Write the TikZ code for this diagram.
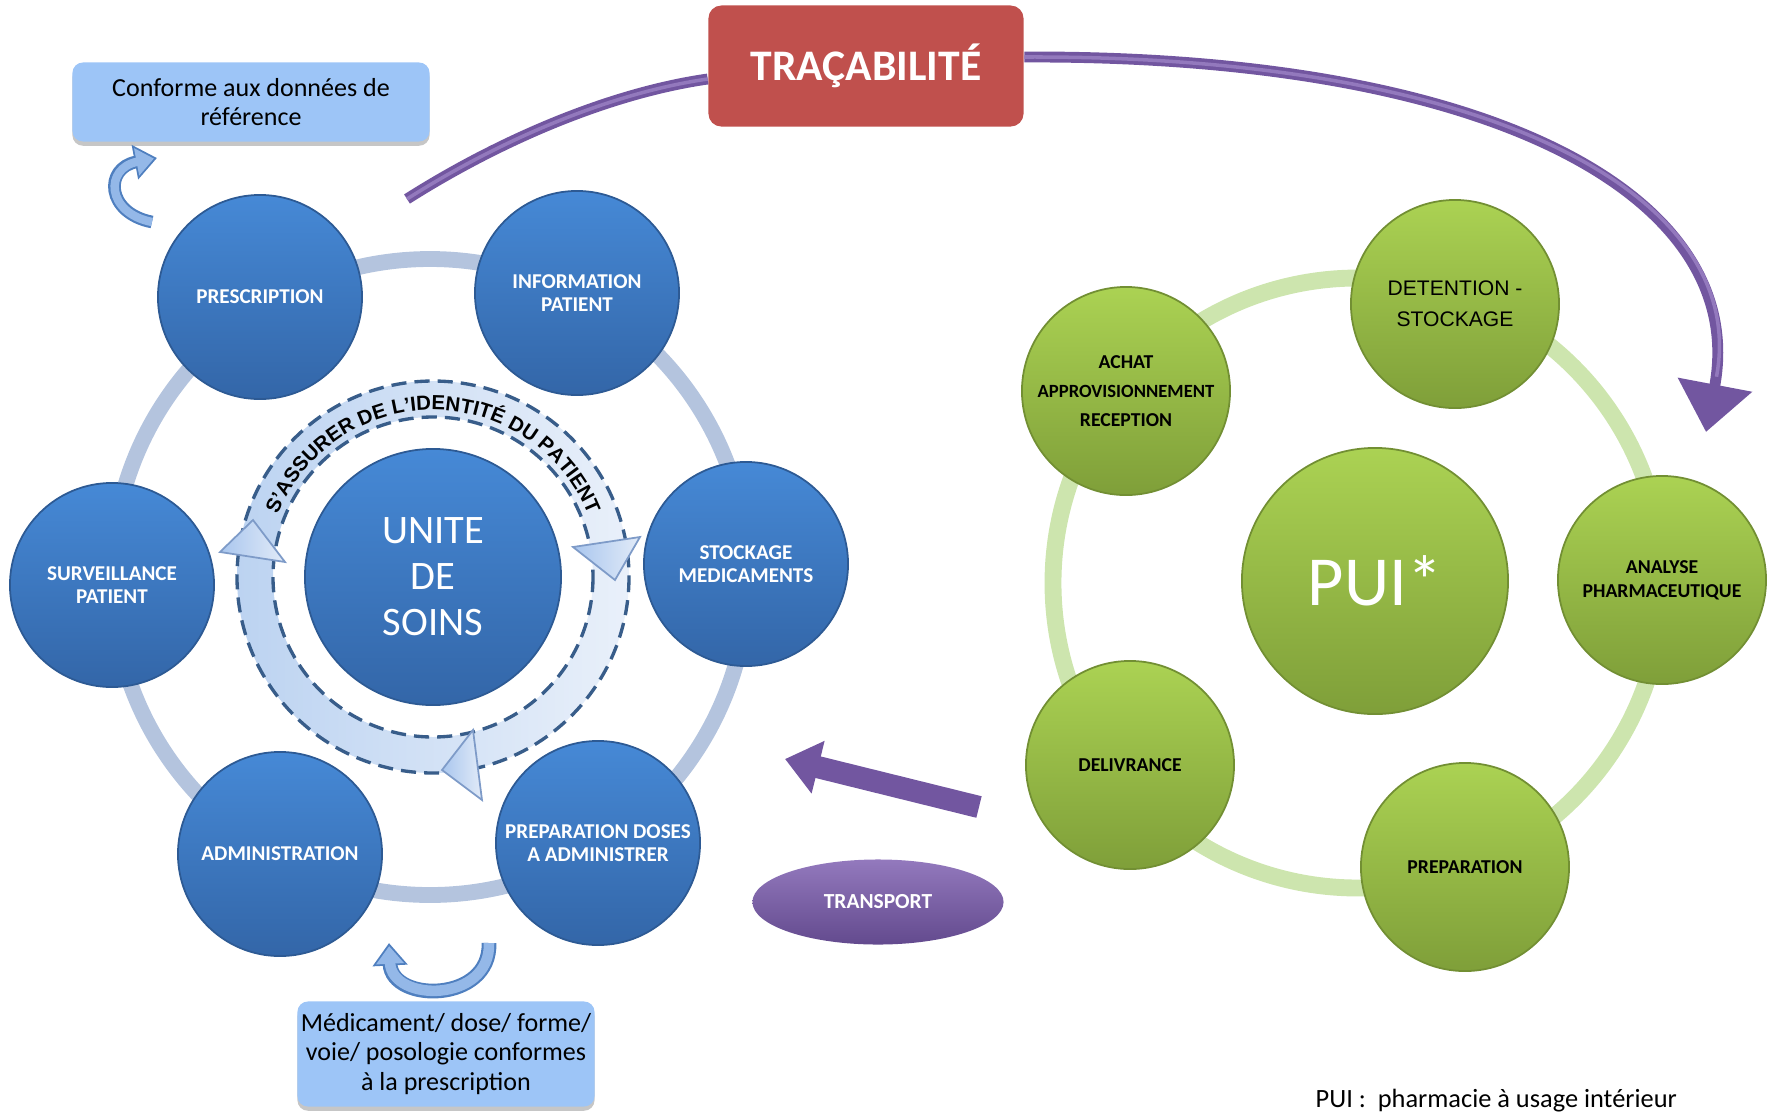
\documentclass[tikz,border=0pt]{standalone}
\usepackage{fontspec}
\setmainfont{Carlito}
\newfontfamily\arialfont{Liberation Sans}
\usetikzlibrary{shapes.geometric, arrows.meta, decorations.text, shadows, calc}

\definecolor{blueTop}{HTML}{4689D6}
\definecolor{blueBot}{HTML}{3366A8}
\definecolor{blueEdge}{HTML}{2D5A94}
\definecolor{blueRing}{HTML}{B4C4DE}
\definecolor{greenTop}{HTML}{ABD253}
\definecolor{greenBot}{HTML}{7F9F39}
\definecolor{greenEdge}{HTML}{728F33}
\definecolor{greenRing}{HTML}{CDE5AE}
\definecolor{tracaRed}{HTML}{C0504D}
\definecolor{purpleMid}{HTML}{7256A0}
\definecolor{purpleTop}{HTML}{9379BD}
\definecolor{purpleBot}{HTML}{634A8E}
\definecolor{noteBlue}{HTML}{9DC5F7}
\definecolor{bandLeft}{HTML}{BCD3F1}
\definecolor{bandRight}{HTML}{E9F0FA}
\definecolor{dashBlue}{HTML}{385D8A}
\definecolor{headLeft}{HTML}{A9C6EE}
\definecolor{headRight}{HTML}{E2EBF8}
\definecolor{headEdge}{HTML}{7E9BC8}
\definecolor{arrowFill}{HTML}{94B8E8}
\definecolor{arrowEdge}{HTML}{4F7FBF}

\tikzset{
  us_n/.style = {circle, inner sep=0pt, align=center, minimum size=2.04cm,
    top color=blueTop, bottom color=blueBot, draw=blueEdge, line width=0.5pt,
    text=white, font=\bfseries\fontsize{6}{6.6}\selectfont},% unite de soins, noeud bleu
  pui_n/.style = {circle, inner sep=0pt, align=center, minimum size=2.08cm,
    top color=greenTop, bottom color=greenBot, draw=greenEdge, line width=0.5pt,
    font=\bfseries\fontsize{5.6}{6.8}\selectfont},% pharmacie, noeud vert
  note_n/.style = {rectangle, rounded corners=3pt, fill=noteBlue, align=center,
    inner sep=0pt, font=\fontsize{7.4}{8.5}\selectfont,
    drop shadow={shadow xshift=0pt, shadow yshift=-1.2pt, opacity=0.45}},% bulle
  tube_a/.style = {draw=purpleMid, line width=3.1pt},% fleche violette
  tube_h/.style = {draw=purpleTop, line width=1pt},% reflet du tube
  fleche_b/.style = {draw=arrowEdge, line width=3.6pt,
    -{Triangle[length=6.4pt, width=9.6pt]}},% petite fleche, bord
  fleche_f/.style = {draw=arrowFill, line width=2.4pt, shorten >=0.9pt,
    -{Triangle[length=5pt, width=7.6pt]}},% petite fleche, fond
  tete_a/.style = {left color=headLeft, right color=headRight,
    draw=headEdge, line width=0.5pt}% pointes de l'anneau
}

\begin{document}
\begin{tikzpicture}[x=0.01cm, y=-0.01cm]
\useasboundingbox (0,0) rectangle (1768,1111);

% anneaux
\coordinate (cSoin) at (430,577);
\coordinate (cPui) at (1358,583);
\draw[blueRing, line width=4.5pt] (cSoin) circle[radius=318];
\draw[greenRing, line width=4.8pt] (cPui) circle[radius=305];

% fleche circulaire
\coordinate (cBand) at (433,577);
\path[left color=bandLeft, right color=bandRight, even odd rule]
	(cBand) circle[radius=196] (cBand) circle[radius=160];
\draw[dashBlue, line width=0.95pt, dash pattern=on 4.3pt off 2.3pt]
	(cBand) circle[radius=196] (cBand) circle[radius=160];
\path[tete_a] (220,552) -- (253,520) -- (285,562) -- cycle;
\path[tete_a] (573,547) -- (640,537) -- (615,580) -- cycle;
\path[tete_a] (473,730) -- (442,770) -- (482,800) -- cycle;
\path[decorate, decoration={text along path, text align=center,
	text={|\arialfont\bfseries\fontsize{5.8}{6.5}\selectfont|S’ASSURER DE L’IDENTITÉ DU PATIENT}}]
	(cBand) ++(-178:167) arc[start angle=-178, end angle=-2, radius=167];

% unite de soins
\node[us_n, minimum size=2.56cm, font=\fontsize{11.5}{13.1}\selectfont] (unite) at (433,577) {UNITE\\DE\\SOINS};
\node[us_n] (presc) at (260,297) {PRESCRIPTION};
\node[us_n] (info) at (577,293) {INFORMATION\\PATIENT};
\node[us_n] (stock) at (746,564) {STOCKAGE\\MEDICAMENTS};
\node[us_n] (prepd) at (598,843) {PREPARATION DOSES\\A ADMINISTRER};
\node[us_n] (admin) at (280,854) {ADMINISTRATION};
\node[us_n] (surv) at (112,585) {SURVEILLANCE\\PATIENT};

% pharmacie
\node[pui_n, minimum size=2.66cm, font=\fontsize{20}{22}\selectfont, text=white] (pui) at (1375,581) {PUI*};
\node[pui_n, font=\arialfont\fontsize{6}{8.7}\selectfont] (deten) at (1455,304) {DETENTION -\\STOCKAGE};
\node[pui_n, font=\bfseries\fontsize{5.6}{8.3}\selectfont] (achat) at (1126,391)
	{ACHAT\\{\fontsize{5.3}{8.3}\selectfont APPROVISIONNEMENT}\\RECEPTION};
\node[pui_n] (analyse) at (1662,580) {ANALYSE\\PHARMACEUTIQUE};
\node[pui_n] (deliv) at (1130,765) {DELIVRANCE};
\node[pui_n] (prepa) at (1465,867) {PREPARATION};

\node[ellipse, minimum width=2.51cm, minimum height=0.85cm, top color=purpleTop, bottom color=purpleBot,
	text=white, font=\bfseries\fontsize{6.1}{7}\selectfont] (transp) at (878,902) {TRANSPORT};

% bulles
\node[note_n, minimum width=3.57cm, minimum height=0.79cm] (conf) at (251,102) {Conforme aux données de\\référence};
\node[note_n, minimum width=2.97cm, minimum height=1.05cm] (medic) at (446,1054)
	{Médicament/ dose/ forme/\\voie/ posologie conformes\\à la prescription};

% tracabilite
\node[rectangle, rounded corners=3.7pt, fill=tracaRed, minimum width=3.15cm, minimum height=1.21cm,
	text=white, font=\bfseries\fontsize{12.4}{14}\selectfont] (traca) at (866,66) {TRAÇABILITÉ};
\coordinate (trDebut) at (407,199);
\coordinate (trFin) at (1706,432);
\draw[tube_a] (trDebut) .. controls (500,140) and (610,93) .. ($(traca.west)+(0,13)$);
\draw[tube_h] (trDebut) .. controls (500,140) and (610,93) .. ($(traca.west)+(0,13)$);
\draw[tube_a, -{Triangle[width=20.8pt, length=13.7pt]}] ($(traca.east)+(0,-9)$)
	.. controls (1500,55) and (1750,200) .. (trFin);
\draw[tube_h, shorten >=16pt] ($(traca.east)+(0,-9)$)
	.. controls (1500,55) and (1750,200) .. (trFin);

% transport
\coordinate (trQueue) at (979,807);
\coordinate (trPointe) at (785,759);
\draw[tube_a, line width=6.3pt, -{Triangle[width=14.8pt, length=9.7pt]}] (trQueue) -- (trPointe);

% petites fleches
\coordinate (bQueue) at (152,222);
\coordinate (bPointe) at (157,158);
\draw[fleche_b] (bQueue) .. controls (106,213) and (104,168) .. (bPointe);
\draw[fleche_f] (bQueue) .. controls (106,213) and (104,168) .. (bPointe);
\coordinate (cQueue) at (489,943);
\coordinate (cPointe) at (389,943);
\draw[fleche_b, line width=4.2pt] (cQueue) .. controls (491,1003) and (392,1003) .. (cPointe);
\draw[fleche_f, line width=3pt] (cQueue) .. controls (491,1003) and (392,1003) .. (cPointe);

\node[anchor=base west, inner sep=0pt, font=\fontsize{7.5}{8.5}\selectfont] (legende) at (1315,1107)
	{PUI :~ pharmacie à usage intérieur};
\end{tikzpicture}
\end{document}
